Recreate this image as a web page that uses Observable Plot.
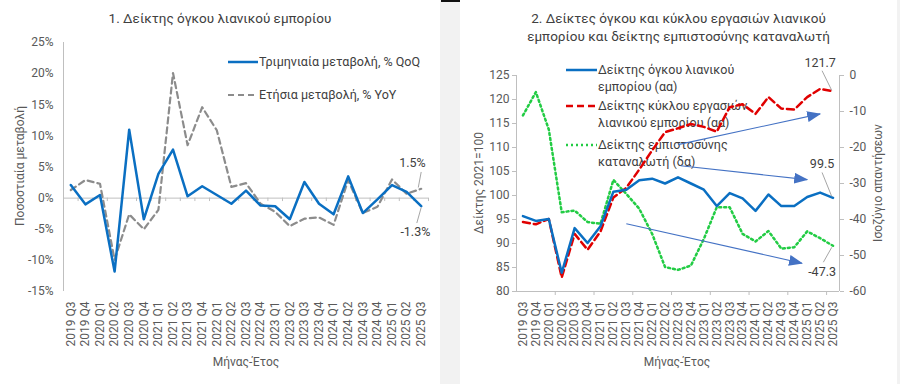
<!DOCTYPE html>
<html>
<head>
<meta charset="utf-8">
<script src="https://cdn.jsdelivr.net/npm/d3@7"></script>
<script src="https://cdn.jsdelivr.net/npm/@observablehq/plot@0.6"></script>
<style>
  body { margin: 0; background: #f2f2f2; font-family: Roboto, "Noto Sans", sans-serif; color: #595959; }
  #wrap { position: relative; width: 900px; height: 384px; background: #f2f2f2; overflow: hidden; }
  #topbar { position: absolute; left: 441px; top: 0; width: 19px; height: 2px; background: #111; }
  .panel { position: absolute; top: 0; height: 384px; background: #fff; }
  #p1 { left: 0; width: 440px; }
  #p2 { left: 460px; width: 437px; }
  .title { position: absolute; left: 0; right: 0; text-align: center; font-size: 13.5px; color: #404040; line-height: 18px; }
  .lab { position: absolute; font-size: 12px; white-space: nowrap; color: #595959; }
  .rot { transform: translate(-50%, -50%) rotate(-90deg); }
  .ctr { transform: translate(-50%, -50%); }
  .leg { position: absolute; font-size: 12.5px; color: #404040; line-height: 17px; white-space: nowrap; }
  .sw { position: absolute; }
  .chart { position: absolute; left: 0; top: 0; }
</style>
</head>
<body>
<div id="wrap">
  <div id="topbar"></div>
  <div class="panel" id="p1">
    <div class="title" style="top:9px">1. Δείκτης όγκου λιανικού εμπορίου</div>
    <div class="lab rot" style="left:20px; top:166px">Ποσοστιαία μεταβολή</div>
    <div class="lab ctr" style="left:246px; top:362px">Μήνας-Έτος</div>
    <svg class="sw" style="left:228px; top:56px" width="30" height="12"><line x1="0" x2="30" y1="6" y2="6" stroke="#0a6fc2" stroke-width="2.5"/></svg>
    <div class="leg" style="left:259px; top:53px">Τριμηνιαία μεταβολή, % QoQ</div>
    <svg class="sw" style="left:228px; top:89px" width="30" height="12"><line x1="0" x2="30" y1="6" y2="6" stroke="#8c8c8c" stroke-width="2.2" stroke-dasharray="6,4"/></svg>
    <div class="leg" style="left:259px; top:86px">Ετήσια μεταβολή, % YoY</div>
  </div>
  <div class="panel" id="p2">
    <div class="title" style="top:9px">2. Δείκτες όγκου και κύκλου εργασιών λιανικού<br>εμπορίου και δείκτης εμπιστοσύνης καταναλωτή</div>
    <div class="lab rot" style="left:19px; top:183px">Δείκτης 2021=100</div>
    <div class="lab rot" style="left:418px; top:183px">Ισοζύγιο απαντήσεων</div>
    <div class="lab ctr" style="left:217px; top:362px">Μήνας-Έτος</div>
    <svg class="sw" style="left:106px; top:64px" width="31" height="12"><line x1="0" x2="31" y1="6" y2="6" stroke="#0a6fc2" stroke-width="2.5"/></svg>
    <div class="leg" style="left:138px; top:61px">Δείκτης όγκου λιανικού<br>εμπορίου (αα)</div>
    <svg class="sw" style="left:106px; top:100px" width="31" height="12"><line x1="0" x2="31" y1="6" y2="6" stroke="#e00000" stroke-width="2.5" stroke-dasharray="7,4"/></svg>
    <div class="leg" style="left:138px; top:97px">Δείκτης κύκλου εργασιών<br>λιανικού εμπορίου (αα)</div>
    <svg class="sw" style="left:106px; top:139px" width="31" height="12"><line x1="0" x2="31" y1="6" y2="6" stroke="#22cc44" stroke-width="2.5" stroke-dasharray="2,3"/></svg>
    <div class="leg" style="left:138px; top:136px">Δείκτης εμπιστοσύνης<br>καταναλωτή (δα)</div>
  </div>
</div>
<script>
// Quarterly categories shared by both charts
const quarters = [
  "2019 Q3", "2019 Q4", "2020 Q1", "2020 Q2", "2020 Q3", "2020 Q4",
  "2021 Q1", "2021 Q2", "2021 Q3", "2021 Q4", "2022 Q1", "2022 Q2",
  "2022 Q3", "2022 Q4", "2023 Q1", "2023 Q2", "2023 Q3", "2023 Q4",
  "2024 Q1", "2024 Q2", "2024 Q3", "2024 Q4", "2025 Q1", "2025 Q2", "2025 Q3"
];

// Chart 1: retail volume, % change
const qoq = [2.1, -1.0, 0.5, -11.8, 11.0, -3.4, 3.9, 7.8, 0.3, 1.9, 0.5, -0.9,
             1.2, -1.2, -1.3, -3.4, 2.6, -0.9, -2.6, 3.5, -2.4, -0.2, 2.1, 1.0, -1.3];
const yoy = [1.3, 2.9, 2.3, -9.9, -2.6, -5.0, -1.9, 20.1, 8.5, 14.6, 10.9, 1.8,
             2.4, -0.9, -2.2, -4.5, -3.3, -3.1, -4.3, 2.9, -2.4, -1.4, 3.0, 0.7, 1.5];
const pctTicks = [-15, -10, -5, 0, 5, 10, 15, 20, 25];

// Chart 2: indices (2021=100) and consumer confidence balance
const volumeIdx = [95.7, 94.7, 95.1, 83.9, 93.2, 90.1, 93.6, 100.8, 101.2, 103.2, 103.5, 102.5,
                   103.8, 102.5, 101.2, 97.8, 100.5, 99.4, 96.8, 100.2, 97.8, 97.8, 99.7, 100.6, 99.5];
const turnoverIdx = [94.5, 94.0, 95.1, 82.9, 92.0, 88.7, 92.5, 99.6, 101.6, 105.4, 109.4, 113.2,
                     114.0, 114.9, 114.3, 113.3, 118.4, 119.0, 117.0, 120.5, 118.1, 117.9, 120.5, 122.2, 121.7];
const confidence = [-11.1, -4.6, -15.0, -38.0, -37.5, -40.7, -41.2, -29.0, -32.9, -37.0, -44.0, -53.2,
                    -54.0, -52.8, -45.4, -36.6, -36.6, -44.0, -46.1, -43.2, -48.1, -47.7, -43.3, -45.2, -47.3];
const indexTicks = [80, 85, 90, 95, 100, 105, 110, 115, 120, 125];
const balanceTicks = [-60, -50, -40, -30, -20, -10, 0];

// Trend arrows (x in quarter positions, y on the index axis)
const trendArrows = [
  {x1: 12.0, y1: 110.6, x2: 23.0, y2: 117.0},
  {x1: 12.2, y1: 106.2, x2: 22.0, y2: 103.3},
  {x1: 8.0,  y1: 94.1,  x2: 21.6, y2: 85.9}
];

const idx = quarters.map((_, i) => i);
const last = quarters.length - 1;
const axisGrey = "#bfbfbf";
const textGrey = "#595959";
const blue = "#0a6fc2";
const arrowBlue = "#4472c4";
const baseStyle = {background: "transparent", fontFamily: "Roboto, 'Noto Sans', sans-serif", fontSize: "12px", color: textGrey, overflow: "visible"};

// Map the confidence balance (-60..0) onto the index scale (80..125)
const toIndexScale = v => 80 + (v + 60) * 0.75;
const fromIndexScale = v => Math.round((v - 80) / 0.75 - 60);

// Left chart: last-value callouts
const pctCallouts = [
  {x: 23.4, y: 5.6, text: yoy[last].toFixed(1) + "%", lx1: 24, ly1: 4.2, lx2: 23.8, ly2: 1.7},
  {x: 23.6, y: -5.5, text: qoq[last].toFixed(1) + "%", lx1: 24, ly1: -1.5, lx2: 23.7, ly2: -4.0}
];

const chart1 = Plot.plot({
  width: 440, height: 384,
  marginLeft: 63, marginRight: 12, marginTop: 42, marginBottom: 93,
  style: baseStyle,
  x: {domain: [-0.5, quarters.length - 0.5]},
  y: {domain: [-15, 25]},
  marks: [
    Plot.ruleX([-0.5], {stroke: axisGrey}),
    Plot.ruleY([0], {stroke: axisGrey}),
    Plot.ruleX(d3.range(-0.5, quarters.length, 1), {y1: 0, y2: -0.55, stroke: axisGrey}),
    Plot.axisY({ticks: pctTicks, tickFormat: d => d + "%", tickSize: 0, tickPadding: 10, label: null}),
    Plot.axisX({ticks: idx, tickFormat: i => quarters[i], tickRotate: -90, tickSize: 0, tickPadding: 10, label: null}),
    Plot.line(idx, {x: i => i, y: i => yoy[i], stroke: "#8c8c8c", strokeWidth: 2.2, strokeDasharray: "6,4"}),
    Plot.line(idx, {x: i => i, y: i => qoq[i], stroke: blue, strokeWidth: 2.5}),
    Plot.link(pctCallouts, {x1: "lx1", y1: "ly1", x2: "lx2", y2: "ly2", stroke: "#a6a6a6", strokeWidth: 1}),
    Plot.text(pctCallouts, {x: "x", y: "y", text: "text", fill: "#404040", fontSize: 12.5})
  ]
});
chart1.classList.add("chart");
document.getElementById("p1").appendChild(chart1);

// Right chart: last-value callouts
const idxCallouts = [
  {x: 23.0, y: 127.6, text: turnoverIdx[last].toFixed(1), lx1: 23.15, ly1: 126.0, lx2: 23.9, ly2: 121.9},
  {x: 23.15, y: 106.6, text: volumeIdx[last].toFixed(1), lx1: 23.15, ly1: 104.8, lx2: 23.9, ly2: 99.8},
  {x: 23.15, y: 84.0, text: confidence[last].toFixed(1), lx1: 23.9, ly1: 89.2, lx2: 23.25, ly2: 86.1}
];

const chart2 = Plot.plot({
  width: 437, height: 384,
  marginLeft: 56, marginRight: 58, marginTop: 75, marginBottom: 93,
  style: baseStyle,
  x: {domain: [-0.5, quarters.length - 0.5]},
  y: {domain: [80, 125]},
  marks: [
    Plot.ruleX([-0.5, quarters.length - 0.5], {stroke: axisGrey}),
    Plot.ruleY([80], {stroke: axisGrey}),
    Plot.axisY({ticks: indexTicks, tickSize: 4, tickPadding: 3, stroke: axisGrey, label: null}),
    Plot.axisY({anchor: "right", ticks: balanceTicks.map(toIndexScale), tickFormat: v => String(fromIndexScale(v)),
                tickSize: 4, tickPadding: 6, stroke: axisGrey, label: null}),
    Plot.axisX({ticks: d3.range(2.5, quarters.length, 3), tickSize: 4, tickFormat: () => "", stroke: axisGrey, label: null}),
    Plot.axisX({ticks: idx, tickFormat: i => quarters[i], tickRotate: -90, tickSize: 0, tickPadding: 10, label: null}),
    Plot.line(idx, {x: i => i, y: i => toIndexScale(confidence[i]), stroke: "#22cc44", strokeWidth: 2.5, strokeDasharray: "2,3"}),
    Plot.line(idx, {x: i => i, y: i => turnoverIdx[i], stroke: "#e00000", strokeWidth: 2.5, strokeDasharray: "7,4"}),
    Plot.line(idx, {x: i => i, y: i => volumeIdx[i], stroke: blue, strokeWidth: 2.5}),
    Plot.link(trendArrows, {x1: "x1", y1: "y1", x2: "x2", y2: "y2", stroke: arrowBlue, strokeWidth: 1.1}),
    Plot.link(idxCallouts, {x1: "lx1", y1: "ly1", x2: "lx2", y2: "ly2", stroke: "#a6a6a6", strokeWidth: 1}),
    Plot.text(idxCallouts, {x: "x", y: "y", text: "text", fill: "#404040", fontSize: 12.5})
  ]
});
chart2.classList.add("chart");
document.getElementById("p2").appendChild(chart2);

// Filled triangle heads for the trend arrows
const svg2 = d3.select(chart2);
const defs = svg2.append("defs");
defs.append("marker")
  .attr("id", "trend-head")
  .attr("markerUnits", "userSpaceOnUse")
  .attr("viewBox", "0 0 14 11")
  .attr("markerWidth", 14).attr("markerHeight", 11)
  .attr("refX", 13).attr("refY", 5.5)
  .attr("orient", "auto")
  .append("path")
  .attr("d", "M0,0L14,5.5L0,11Z")
  .attr("fill", arrowBlue);
svg2.selectAll("g")
  .filter(function() { return (this.getAttribute("stroke") || "").toLowerCase() === arrowBlue; })
  .selectAll("path, line")
  .attr("marker-end", "url(#trend-head)");
</script>
</body>
</html>
